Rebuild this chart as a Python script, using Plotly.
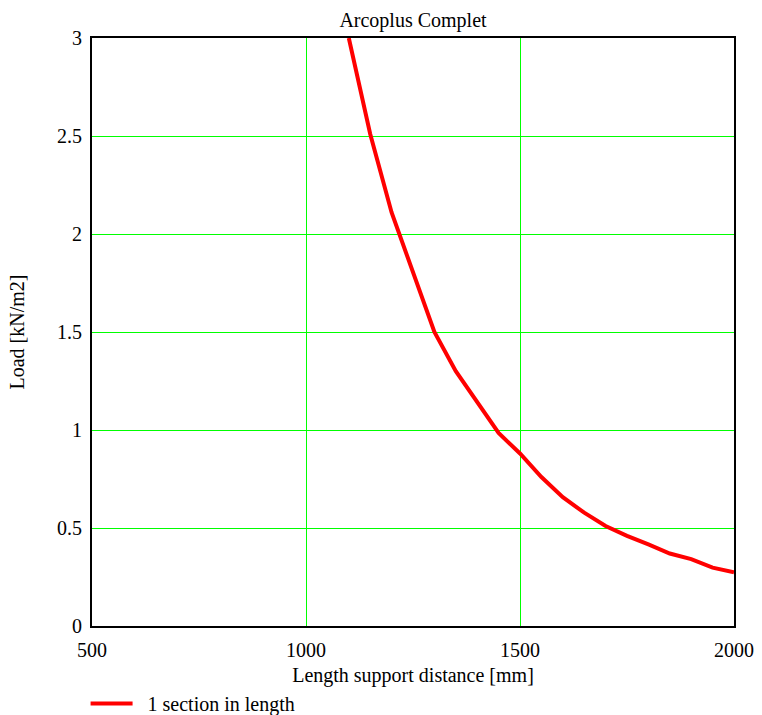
import plotly.graph_objects as go

# Data
span_mm = [1100, 1150, 1200, 1250, 1300, 1350, 1400, 1450, 1500, 1550,
           1600, 1650, 1700, 1750, 1800, 1850, 1900, 1950, 2000]
load_kn_m2 = [3.00, 2.51, 2.11, 1.80, 1.50, 1.30, 1.14, 0.985, 0.88, 0.76,
              0.657, 0.578, 0.51, 0.46, 0.416, 0.37, 0.341, 0.298, 0.274]
series_name = "1 section in length"
title_text = "Arcoplus Complet"
x_title = "Length support distance [mm]"
y_title = "Load [kN/m2]"
x_ticks = [500, 1000, 1500, 2000]
y_ticks = [0, 0.5, 1, 1.5, 2, 2.5, 3]
y_tick_text = ["0", "0.5", "1", "1.5", "2", "2.5", "3"]

FONT = "Liberation Serif, Times New Roman, serif"
FS = 20

fig = go.Figure()
fig.add_trace(go.Scatter(
    x=span_mm, y=load_kn_m2, mode="lines", name="\u00a0\u00a0" + series_name,
    line=dict(color="#ff0000", width=4),
))

fig.update_layout(
    width=762, height=715,
    margin=dict(l=92, r=28, t=38, b=89, pad=0, autoexpand=False),
    paper_bgcolor="white", plot_bgcolor="white",
    font=dict(family=FONT, size=FS, color="black"),
    title=dict(text=title_text, x=(92 + 734) / 2 / 762, xanchor="center",
               y=1 - 20 / 715, yanchor="middle",
               font=dict(family=FONT, size=FS, color="black")),
    showlegend=True,
    legend=dict(orientation="h", x=-0.01, xanchor="left", y=-0.0985, yanchor="top",
                bgcolor="rgba(0,0,0,0)", itemwidth=42,
                font=dict(family=FONT, size=FS, color="black")),
)
fig.update_xaxes(
    range=[500, 2000], tickvals=x_ticks, showgrid=True, gridcolor="#00ff00", gridwidth=1,
    zeroline=False, showline=True, linecolor="black", linewidth=2, mirror=True,
    ticks="", ticklabelstandoff=5, automargin=False,
    title=dict(text=x_title, standoff=8, font=dict(family=FONT, size=FS)),
)
fig.update_yaxes(
    range=[0, 3], tickvals=y_ticks, ticktext=y_tick_text, showgrid=True,
    gridcolor="#00ff00", gridwidth=1,
    zeroline=False, showline=True, linecolor="black", linewidth=2, mirror=True,
    ticks="", ticklabelstandoff=4, automargin=False,
    title=dict(text=y_title, standoff=27, font=dict(family=FONT, size=FS)),
)

fig.write_html("out.html", config={"displayModeBar": False},
               post_script="document.body.style.margin='0';")
